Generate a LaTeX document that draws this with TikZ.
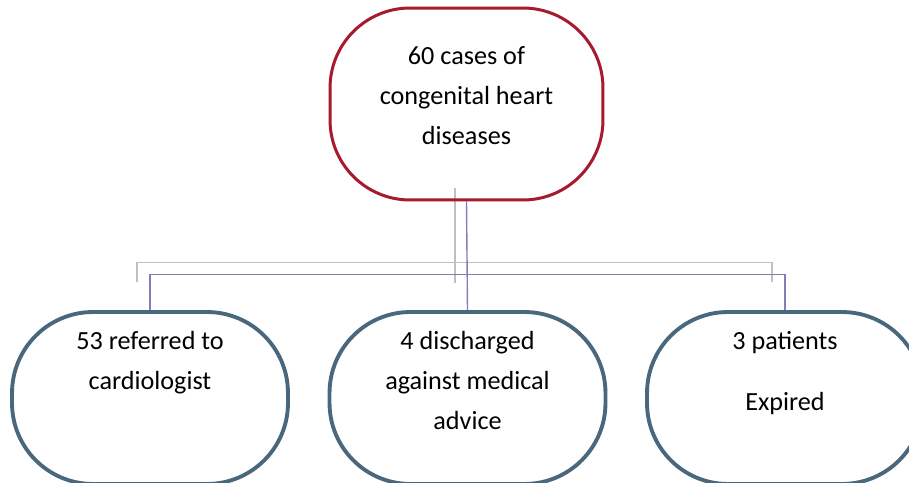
\documentclass[tikz,border=0pt]{standalone}
\usepackage{fontspec}
\setmainfont{Carlito}
\usetikzlibrary{%
  positioning,%
  calc,%
  backgrounds,%
}

\definecolor{rootred}{RGB}{166,25,46}
\definecolor{leafblue}{RGB}{74,104,125}
\definecolor{linkpurple}{RGB}{128,128,184}
\definecolor{linkgray}{RGB}{192,192,192}

\tikzset{
  rootbox/.style={draw=rootred, line width=1.7pt, rounded corners=1.6cm,
    minimum width=5.46cm, minimum height=3.84cm, inner sep=0pt},
  leafbox/.style={draw=leafblue, line width=2.2pt, rounded corners=1.62cm,
    minimum width=5.52cm, minimum height=3.44cm, inner sep=0pt},
  boxtext/.style={anchor=north, align=center, inner sep=0pt,
    font=\fontsize{14.9}{22.7}\selectfont},
  graylink/.style={draw=linkgray, line width=0.8pt},
  purplelink/.style={draw=linkpurple, line width=0.8pt},
}

\begin{document}
\begin{tikzpicture}[x=0.02cm, y=-0.02cm]

      \useasboundingbox (0,0) rectangle (909,483);

      % root
      \node[rootbox] (cases) at (466.5,104) {};
      \node[boxtext] (casestext) at ($(cases.north)+(0,40)$)
        {60 cases of\\congenital heart\\diseases};

      % outcomes
      \node[leafbox] (cardio) at (150,398) {};
      \node[leafbox] (dama) at (467.5,398) {};
      \node[leafbox] (expired) at (785,398) {};

      \node[boxtext] (cardiotext) at ($(cardio.north)+(0,21)$)
        {53 referred to\\cardiologist};
      \node[boxtext] (damatext) at ($(dama.north)+(0,21)$)
        {4 discharged\\against medical\\advice};
      \node[boxtext] (expiredtext) at ($(expired.north)+(0,21)$)
        {3 patients\\[12pt]Expired};

      % connectors
      \begin{scope}[on background layer]
        \coordinate (gtop) at ($(cases.south)+(-11.5,-13)$);
        \coordinate (gbar) at ($(cases.south)+(-11.5,61)$);
        \coordinate (gend) at ($(cases.south)+(-11.5,82)$);
        \coordinate (gleft) at (137,282);
        \coordinate (gright) at (772,282);
        \draw[graylink] (gtop) -- (gend);
        \draw[graylink] (gleft) |- (gbar) -| (gright);

        \coordinate (pbar) at ($(cases.south)+(0,73)$);
        \draw[purplelink] (cases.south) -- (dama.north);
        \draw[purplelink] (cardio.north) |- (pbar) -| (expired.north);
      \end{scope}

\end{tikzpicture}
\end{document}
